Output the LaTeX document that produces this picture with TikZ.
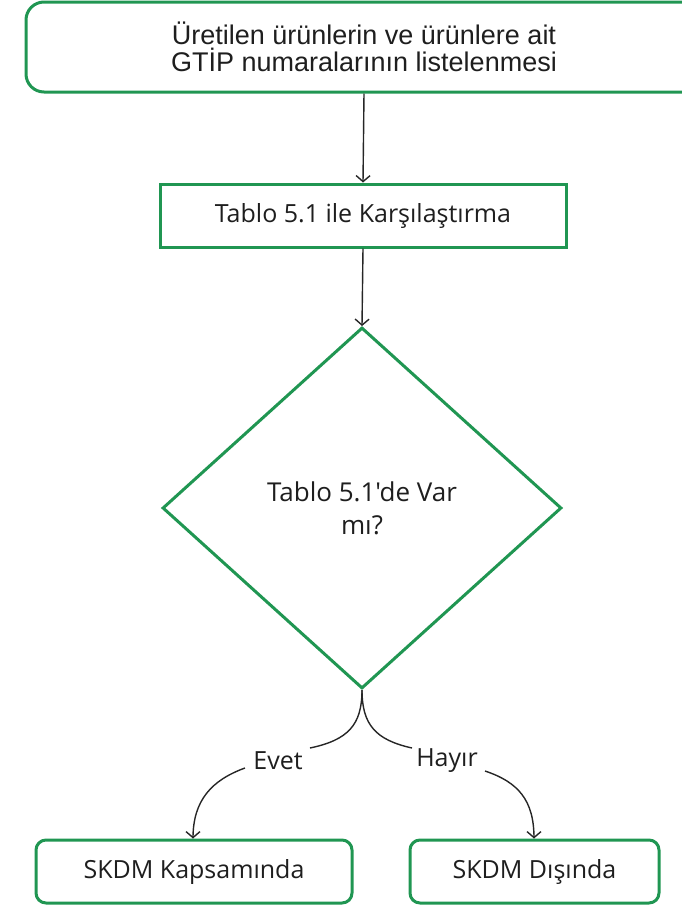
\documentclass[tikz,border=0pt]{standalone}
\usepackage{fontspec}
\setmainfont{Open Sans}[Ligatures=TeXOff]
\newfontfamily\topfont{Liberation Sans}
\usetikzlibrary{shapes.geometric,arrows.meta}
\definecolor{boxgreen}{RGB}{32,150,82}
\definecolor{txt}{RGB}{30,30,30}
\tikzset{
  gbox/.style={draw=boxgreen, line width=3pt, text=txt, align=center, inner sep=0pt},
  conn/.style={draw=black!85, line width=1.4pt, -{Straight Barb[length=6pt,width=14pt,line width=1.4pt]}},
  connplain/.style={draw=black!85, line width=1.4pt},
  lbl/.style={text=txt, font=\fontsize{25}{30}\selectfont, inner sep=0pt}
}
\begin{document}
\begin{tikzpicture}[x=1pt,y=1pt]
\useasboundingbox (0,0) rectangle (681,-906);
% top box
\node[gbox, rounded corners=18pt, minimum width=676pt, minimum height=90pt,
      font=\topfont\fontsize{27}{27}\selectfont] (top) at (364,-47)
  {Üretilen ürünlerin ve ürünlere ait\\GTİP numaralarının listelenmesi};
% compare box
\node[gbox, minimum width=406pt, minimum height=63pt,
      font=\fontsize{25}{30}\selectfont] (cmp) at (363,-215.5)
  {Tablo 5.1 ile Karşılaştırma};
% diamond
\node[gbox, shape=diamond, minimum width=399pt, minimum height=361pt,
      font=\fontsize{26}{33}\selectfont] (dec) at (362,-508)
  {Tablo 5.1'de Var\\mı?};
% bottom boxes
\node[gbox, rounded corners=10pt, minimum width=316pt, minimum height=63pt,
      font=\fontsize{25}{30}\selectfont] (yes) at (194,-871.5)
  {SKDM Kapsamında};
\node[gbox, rounded corners=10pt, minimum width=249pt, minimum height=63pt,
      font=\fontsize{25}{30}\selectfont] (no) at (534.5,-871.5)
  {SKDM Dışında};
% labels
\node[lbl] (evet) at (278,-761) {Evet};
\node[lbl] (hayir) at (447,-761) {Hayır};
% connectors
\draw[conn] (top.south) -- (cmp.north);
\draw[conn] (cmp.south) -- (dec.north);
\coordinate (e1) at (310,-748);
\coordinate (e2) at (245,-768);
\coordinate (h1) at (412,-748);
\coordinate (h2) at (485,-771);
\draw[connplain] (dec.south) .. controls (362,-725) and (348,-740) .. (e1);
\draw[conn] (e2) .. controls (212,-780) and (193,-800) .. (193,-838) -- (yes.north -| 193,0);
\draw[connplain] (dec.south) .. controls (362,-725) and (376,-740) .. (h1);
\draw[conn] (h2) .. controls (518,-782) and (534,-800) .. (534,-838) -- (no.north -| 534,0);
\end{tikzpicture}
\end{document}
